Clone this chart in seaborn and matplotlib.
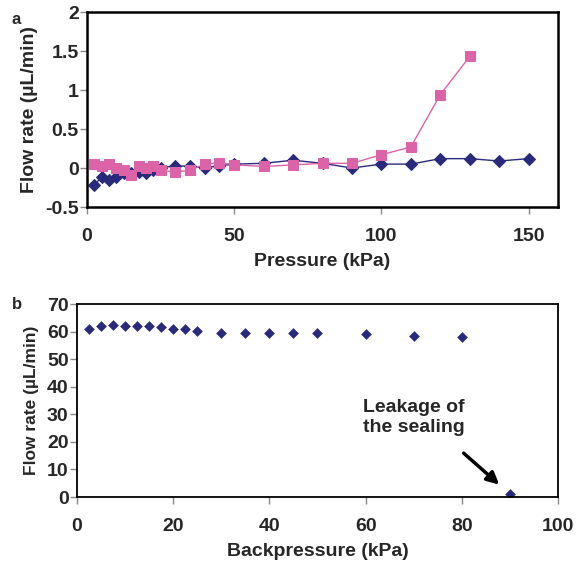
import numpy as np
import pandas as pd
import seaborn as sns
import matplotlib.pyplot as plt

# Panel a: flow rate vs pressure (two series)
pressure_navy = [2.5, 5, 7.5, 10, 12.5, 15, 17.5, 20, 22.5, 25, 30, 35, 40, 45, 50,
                 60, 70, 80, 90, 100, 110, 120, 130, 140, 150]
flow_navy = [-0.22, -0.11, -0.15, -0.11, -0.07, -0.06, -0.05, -0.06, -0.03, 0.0, 0.03, 0.02,
             0.0, 0.03, 0.05, 0.06, 0.10, 0.06, 0.0, 0.05, 0.05, 0.12, 0.12, 0.09, 0.12]
pressure_pink = [2.5, 5, 7.5, 10, 12.5, 15, 17.5, 20, 22.5, 25, 30, 35, 40, 45, 50,
                 60, 70, 80, 90, 100, 110, 120, 130]
flow_pink = [0.05, 0.03, 0.05, 0.0, -0.03, -0.09, 0.02, 0.0, 0.03, -0.03, -0.05, -0.03,
             0.05, 0.07, 0.04, 0.02, 0.04, 0.06, 0.06, 0.17, 0.27, 0.94, 1.43]

# Panel b: flow rate vs backpressure
backpressure = [2.5, 5, 7.5, 10, 12.5, 15, 17.5, 20, 22.5, 25, 30, 35, 40, 45, 50, 60, 70, 80, 90]
flow_b = [61.1, 62.0, 62.3, 62.0, 62.0, 62.0, 61.5, 61.1, 60.8, 60.3, 59.6, 59.6, 59.6,
          59.6, 59.6, 59.2, 58.5, 58.1, 1.0]

navy = '#2a2a7c'
pink = '#dd63a8'

sns.set_style('white')
plt.rcParams['font.family'] = ['Liberation Sans', 'DejaVu Sans']
plt.rcParams['font.weight'] = 'bold'

fig = plt.figure(figsize=(5.77, 5.72), dpi=100)
ax1 = fig.add_axes([0.1508, 0.6381, 0.8163, 0.3409])
ax2 = fig.add_axes([0.1334, 0.1311, 0.8336, 0.3374])

df_navy = pd.DataFrame({'p': pressure_navy, 'q': flow_navy})
df_pink = pd.DataFrame({'p': pressure_pink, 'q': flow_pink})
sns.lineplot(data=df_navy, x='p', y='q', ax=ax1, color=navy, lw=1.0, marker='D',
             markersize=6.5, markeredgecolor=navy)
sns.lineplot(data=df_pink, x='p', y='q', ax=ax1, color=pink, lw=1.0, marker='s',
             markersize=7.5, markeredgecolor=pink)
ax1.set_xlim(0, 160)
ax1.set_ylim(-0.5, 2)
ax1.set_xticks([0, 50, 100, 150])
ax1.set_yticks([-0.5, 0, 0.5, 1, 1.5, 2])
ax1.set_yticklabels(['-0.5', '0', '0.5', '1', '1.5', '2'])
ax1.set_xlabel('Pressure (kPa)', fontsize=14, fontweight='bold', labelpad=6)
ax1.set_ylabel('Flow rate (µL/min)', fontsize=14, fontweight='bold', labelpad=5)

df_b = pd.DataFrame({'p': backpressure, 'q': flow_b})
sns.scatterplot(data=df_b, x='p', y='q', ax=ax2, color=navy, marker='D', s=30,
                edgecolor=navy, linewidth=0)
ax2.set_xlim(0, 100)
ax2.set_ylim(0, 70)
ax2.set_xticks(range(0, 101, 20))
ax2.set_yticks(range(0, 71, 10))
ax2.set_xlabel('Backpressure (kPa)', fontsize=14, fontweight='bold', labelpad=6)
ax2.set_ylabel('Flow rate (µL/min)', fontsize=12.5, fontweight='bold', labelpad=6)
ax2.text(59.5, 35.5, 'Leakage of\nthe sealing', fontsize=14, fontweight='bold',
         ha='left', va='top', linespacing=1.25)
ax2.annotate('', xy=(87.8, 4.5), xytext=(80.4, 15.9),
             arrowprops=dict(arrowstyle='-|>', color='black', lw=2.5, mutation_scale=18,
                             shrinkA=0, shrinkB=0))

for ax, lw in [(ax1, 1.8), (ax2, 1.3)]:
    for s in ax.spines.values():
        s.set_color('black')
        s.set_linewidth(lw)
        s.set_visible(True)
    ax.tick_params(axis='both', direction='out', length=5, width=1, color='#888888',
                   labelsize=14, left=True, bottom=True)
    ax.tick_params(axis='x', pad=10)
    ax.tick_params(axis='y', pad=1)
    for lab in ax.get_xticklabels() + ax.get_yticklabels():
        lab.set_fontweight('bold')

fig.text(0.02, 0.979, 'a', fontsize=12, fontweight='bold', va='top')
fig.text(0.02, 0.481, 'b', fontsize=12, fontweight='bold', va='top')

fig.savefig('out.png', dpi=100)
